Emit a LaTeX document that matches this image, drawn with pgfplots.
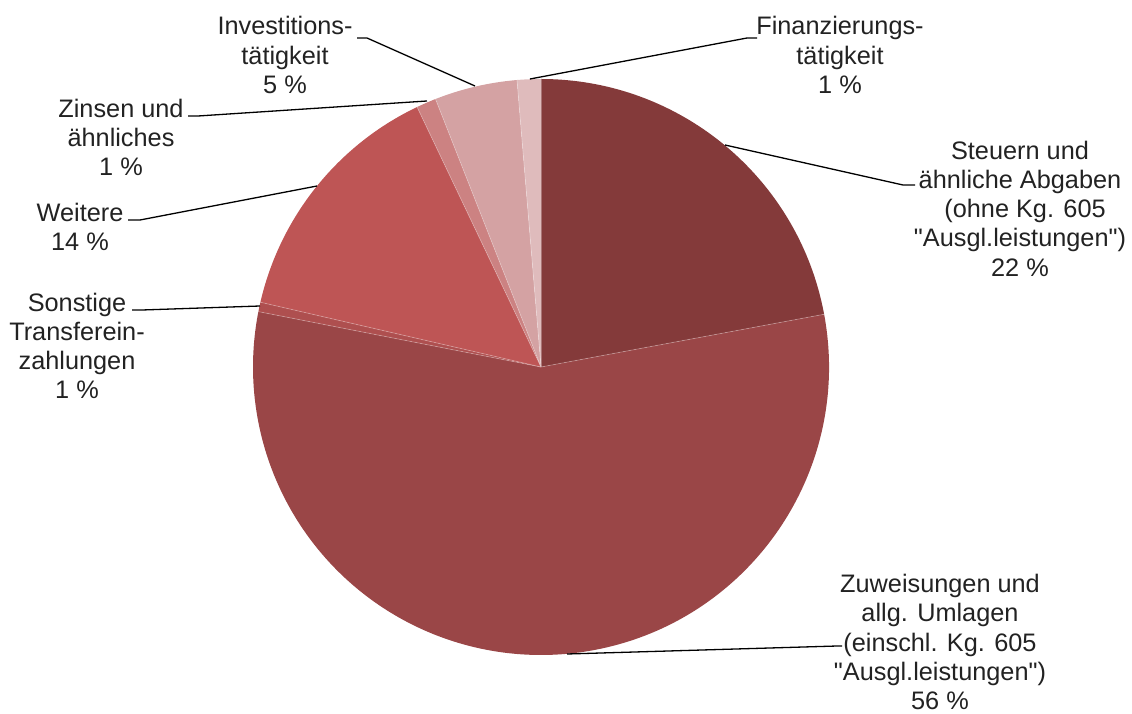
\documentclass[border=0pt]{standalone}
\usepackage{pgfplots}
\pgfplotsset{compat=1.18}
\usepackage{pgfplotstable}
\usepackage{fontspec}
\setmainfont{Liberation Sans}[Ligatures=TeXOff]

\definecolor{cSt}{HTML}{843A3A}
\definecolor{cZu}{HTML}{9A4647}
\definecolor{cSo}{HTML}{AE4F4F}
\definecolor{cWe}{HTML}{BE5555}
\definecolor{cZi}{HTML}{CC8282}
\definecolor{cIn}{HTML}{D4A2A3}
\definecolor{cFi}{HTML}{DFBBBC}
\definecolor{txt}{HTML}{222222}

\pgfplotstableread{
category value col
Steuern 22.07 cSt
Zuweisungen 56.01 cZu
Sonstige 0.53 cSo
Weitere 14.31 cWe
Zinsen 1.11 cZi
Investitionen 4.64 cIn
Finanzierung 1.33 cFi
}\piedata

\begin{document}
\begin{tikzpicture}
\begin{axis}[x=1pt,y=1pt,xmin=0,xmax=1132,ymin=0,ymax=713,
  hide axis,clip=false,anchor=origin,at={(0pt,0pt)}]
\path (axis cs:0,0) rectangle (axis cs:1132,713);
\pgfplotstablegetrowsof{\piedata}
\pgfmathtruncatemacro{\lastrow}{\pgfplotsretval-1}
\xdef\cumangle{90}
\pgfplotsforeachungrouped \i in {0,...,\lastrow}{%
  \pgfplotstablegetelem{\i}{value}\of\piedata
  \let\val\pgfplotsretval
  \pgfplotstablegetelem{\i}{col}\of\piedata
  \let\col\pgfplotsretval
  \pgfmathsetmacro{\endangle}{\cumangle-3.6*\val}%
  \edef\temp{\noexpand\fill[\col] (axis cs:541,346) -- (axis cs:{541+288*cos(\cumangle)},{346+288*sin(\cumangle)}) arc[start angle=\cumangle, end angle=\endangle, radius=288pt] -- cycle;
    \noexpand\draw[white,opacity=0.25,line width=0.8pt] (axis cs:541,346) -- (axis cs:{541+288*cos(\cumangle)},{346+288*sin(\cumangle)});}%
  \temp
  \xdef\cumangle{\endangle}%
}
% leader lines
\draw[black,line width=1.3pt] (axis cs:357,675) -- (axis cs:367,675) -- (axis cs:475,627);
\draw[black,line width=1.3pt] (axis cs:530,634) -- (axis cs:747,675) -- (axis cs:757,675);
\draw[black,line width=1.3pt] (axis cs:188,597) -- (axis cs:198,597) -- (axis cs:427,612);
\draw[black,line width=1.3pt] (axis cs:128,493) -- (axis cs:140,493) -- (axis cs:317,527);
\draw[black,line width=1.3pt] (axis cs:132,403) -- (axis cs:142,403) -- (axis cs:260,407);
\draw[black,line width=1.3pt] (axis cs:725,568) -- (axis cs:903,528) -- (axis cs:915,528);
\draw[black,line width=1.3pt] (axis cs:567,59) -- (axis cs:837,67) -- (axis cs:842,67);
% labels
\tikzset{lbl/.style={font=\fontsize{25.3}{29.25}\selectfont,align=center,text=txt,inner sep=0pt,anchor=center}}
\node[lbl] at (axis cs:285,658) {Investitions-\\tätigkeit\\5 \%};
\node[lbl] at (axis cs:840,658) {Finanzierungs-\\tätigkeit\\1 \%};
\node[lbl] at (axis cs:121,575.5) {Zinsen und\\ähnliches\\1 \%};
\node[lbl] at (axis cs:80,486) {Weitere\\14 \%};
\node[lbl] at (axis cs:77,367) {Sonstige\\Transferein-\\zahlungen\\1 \%};
\node[lbl] at (axis cs:1020,504.5) {Steuern und\\ähnliche Abgaben\\\hspace*{0.4em}(ohne Kg. 605\\"Ausgl.leistungen")\\22 \%};
\node[lbl] at (axis cs:940,71) {Zuweisungen und\\allg. Umlagen\\(einschl. Kg. 605\\"Ausgl.leistungen")\\56 \%};
\end{axis}
\pgfresetboundingbox
\path (0pt,0pt) rectangle (1132pt,713pt);
\end{tikzpicture}
\end{document}
